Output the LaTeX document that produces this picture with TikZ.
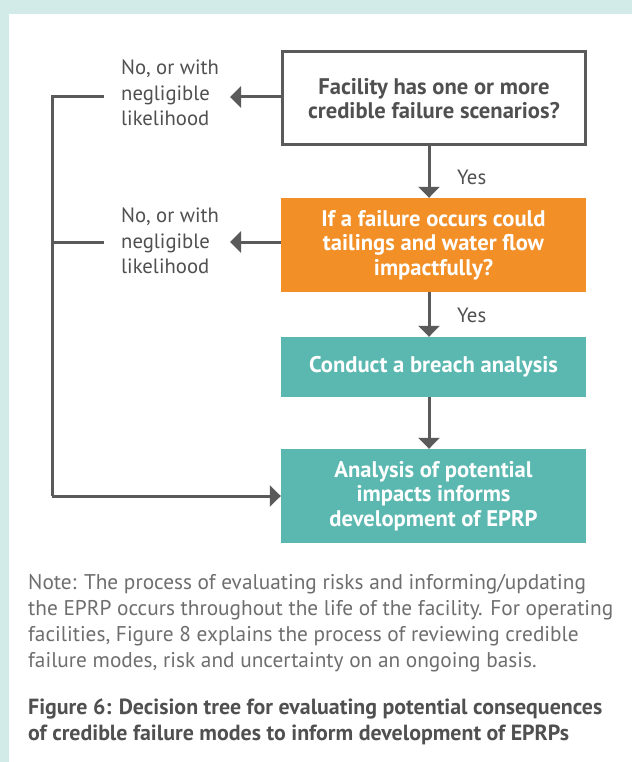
\documentclass[tikz,border=0pt]{standalone}
\usepackage{fontspec}
\setmainfont{PT Sans}
\usetikzlibrary{arrows.meta}
\definecolor{band}{HTML}{D3EBE8}
\definecolor{tealbox}{HTML}{5BB8B0}
\definecolor{orangebox}{HTML}{F28F27}
\definecolor{linegrey}{HTML}{5A5A5A}
\definecolor{labelgrey}{HTML}{505050}
\definecolor{notegrey}{HTML}{6E6E6E}
\tikzset{
  flowbox/.style={minimum width=305pt, inner sep=0pt, align=center,
    font=\bfseries\fontsize{22.6}{24.5}\selectfont},
  qbox/.style={flowbox, draw=linegrey, line width=3pt, fill=white,
    minimum width=303pt, minimum height=93pt, text=labelgrey},
  obox/.style={flowbox, fill=orangebox, text=white},
  tbox/.style={flowbox, fill=tealbox, text=white},
  lbl/.style={inner sep=0pt, align=left, text=labelgrey,
    font=\fontsize{20.7}{25.5}\selectfont},
  ln/.style={draw=linegrey, line width=3pt, line join=miter},
  arr/.style={ln, -{Triangle[width=21pt,length=11pt]}},
}
\begin{document}
\begin{tikzpicture}[x=1pt,y=-1pt]
\fill[band] (0,0) rectangle (632,762);
\fill[white] (9,14) rectangle (632,762);
\useasboundingbox (0,0) rectangle (632,762);

\node[qbox] (b1) at (434,98.5) {Facility has one or more\\credible failure scenarios?};
\node[obox, minimum height=94pt] (b2) at (433.5,245) {If a failure occurs could\\tailings and water flow\\impactfully?};
\node[tbox, minimum height=60pt] (b3) at (433.5,367) {Conduct a breach analysis};
\node[tbox, minimum height=94pt] (b4) at (433.5,496) {Analysis of potential\\impacts informs\\development of EPRP};

\coordinate (ax) at (429,0);
\draw[arr] (b1.south -| ax) -- (b2.north -| ax);
\draw[arr] (b2.south -| ax) -- (b3.north -| ax);
\draw[arr] (b3.south -| ax) -- (b4.north -| ax);
\node[lbl, anchor=west] (y1) at (457,177) {Yes};
\node[lbl, anchor=west] (y2) at (457,315) {Yes};

\node[lbl, anchor=west] (l1) at (121,93) {No, or with\\negligible\\likelihood};
\node[lbl, anchor=west] (l2) at (121,241) {No, or with\\negligible\\likelihood};

\coordinate (t1) at (230,97);
\coordinate (t2) at (230,242);
\coordinate (s1) at (104,97);
\coordinate (s2) at (104,242);
\coordinate (c1) at (52,97);
\coordinate (c2) at (52,242);
\coordinate (c3) at (52,496);

\draw[arr] (b1.west |- t1) -- (t1);
\draw[arr] (b2.west |- t2) -- (t2);
\draw[ln] (s1) -- (c1) -- (c3);
\draw[ln] (s2) -- (c2);
\draw[arr] (c3) -- (b4.west);

\node[anchor=north west, inner sep=0pt, align=left, text=notegrey,
  font=\fontsize{21.3}{25.9}\selectfont] (note) at (28,574)
  {Note: The process of evaluating risks and informing/updating\\
   the EPRP occurs throughout the life of the facility. For operating\\
   facilities, Figure 8 explains the process of reviewing credible\\
   failure modes, risk and uncertainty on an ongoing basis.};
\node[anchor=north west, inner sep=0pt, align=left, text=labelgrey,
  font=\bfseries\fontsize{21.9}{25.5}\selectfont] (cap) at (28,699)
  {Figure 6: Decision tree for evaluating potential consequences\\
   of credible failure modes to inform development of EPRPs};
\end{tikzpicture}
\end{document}
